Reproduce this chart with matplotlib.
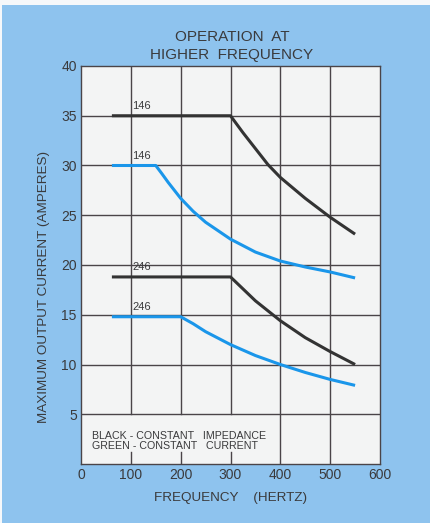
import matplotlib
matplotlib.use("Agg")
import matplotlib.pyplot as plt
from matplotlib.patches import Rectangle

# ---- data ----
x_black_146 = [62, 300, 325, 350, 375, 400, 450, 500, 550]
y_black_146 = [35.0, 35.0, 33.3, 31.7, 30.1, 28.8, 26.7, 24.8, 23.1]
x_blue_146 = [62, 150, 162, 175, 200, 225, 250, 300, 350, 400, 450, 500, 550]
y_blue_146 = [30.0, 30.0, 29.2, 28.3, 26.7, 25.4, 24.3, 22.6, 21.3, 20.4, 19.8, 19.3, 18.7]
x_black_246 = [62, 300, 325, 350, 400, 450, 500, 550]
y_black_246 = [18.8, 18.8, 17.6, 16.4, 14.4, 12.7, 11.3, 10.0]
x_blue_246 = [62, 200, 225, 250, 300, 350, 400, 450, 500, 550]
y_blue_246 = [14.8, 14.8, 14.1, 13.3, 12.0, 10.9, 10.0, 9.2, 8.5, 7.9]
curve_labels = ["146", "146", "246", "246"]
x_ticks = [0, 100, 200, 300, 400, 500, 600]
y_ticks = [5, 10, 15, 20, 25, 30, 35, 40]

plt.rcParams['font.family'] = ['Liberation Sans', 'DejaVu Sans']
TXT = '#3a3a3c'
GRID = '#4a4448'
BLACKLINE = '#333333'
BLUELINE = '#1a96ea'
BG = '#8ec3ee'
PLOTBG = '#f3f4f4'

fig = plt.figure(figsize=(4.30, 5.23), dpi=100)
fig.patch.set_facecolor(BG)
fig.patches.append(Rectangle((0, 1 - 5/523), 1, 5/523, transform=fig.transFigure,
                             facecolor='#f6f8fa', edgecolor='none', zorder=-5))
fig.patches.append(Rectangle((0, 0), 2/430, 1, transform=fig.transFigure,
                             facecolor='#f6f8fa', edgecolor='none', zorder=-5))

ax = fig.add_axes([81/430, 1 - 464/523, 299/430, 398/523])
ax.set_facecolor(PLOTBG)
ax.set_xlim(0, 600)
ax.set_ylim(0, 40)

# grid
for yv in y_ticks[:-1]:
    ax.axhline(yv, color=GRID, lw=1.0, zorder=1)
for xv in x_ticks[1:-1]:
    if xv <= 300:
        ax.plot([xv, xv], [5, 40], color=GRID, lw=1.0, zorder=1)
        ax.plot([xv, xv], [0, 1.2], color=GRID, lw=1.0, zorder=1)
    else:
        ax.axvline(xv, color=GRID, lw=1.0, zorder=1)
for s in ax.spines.values():
    s.set_color(GRID)
    s.set_linewidth(1.0)

kw = dict(lw=2.2, zorder=3, solid_capstyle='butt', solid_joinstyle='round')
ax.plot(x_black_146, y_black_146, color=BLACKLINE, **kw)
ax.plot(x_blue_146, y_blue_146, color=BLUELINE, **kw)
ax.plot(x_black_246, y_black_246, color=BLACKLINE, **kw)
ax.plot(x_blue_246, y_blue_246, color=BLUELINE, **kw)

for lab, yv in zip(curve_labels, [y_black_146[0], y_blue_146[0], y_black_246[0], y_blue_246[0]]):
    ax.text(122, yv + 0.5, lab, fontsize=8, color=TXT, ha='center', va='bottom', zorder=4)

ax.text(22, 2.3, "BLACK - CONSTANT   IMPEDANCE\nGREEN - CONSTANT   CURRENT",
        fontsize=7.7, color=TXT, ha='left', va='center', linespacing=1.0, zorder=4)

ax.set_xticks(x_ticks)
ax.set_xticklabels([str(v) for v in x_ticks])
ax.set_yticks(y_ticks)
ax.set_yticklabels([str(v) for v in y_ticks])
ax.tick_params(axis='both', length=0, labelsize=10, colors=TXT, pad=3)
ax.tick_params(axis='y', pad=3)
for lbl in ax.get_xticklabels():
    if lbl.get_text() == '0':
        lbl.set_x(-20)

ax.set_xlabel("FREQUENCY    (HERTZ)", fontsize=9.7, color=TXT, labelpad=7)
ax.set_ylabel("MAXIMUM OUTPUT CURRENT (AMPERES)", fontsize=9.7, color=TXT)
ax.yaxis.set_label_coords(-0.104, 0.445)
fig.text(232/430, 1 - 46/523, "OPERATION  AT\nHIGHER  FREQUENCY", fontsize=11, color=TXT,
         ha='center', va='center', linespacing=1.3)

fig.savefig("out.png", dpi=100, facecolor=fig.get_facecolor())
